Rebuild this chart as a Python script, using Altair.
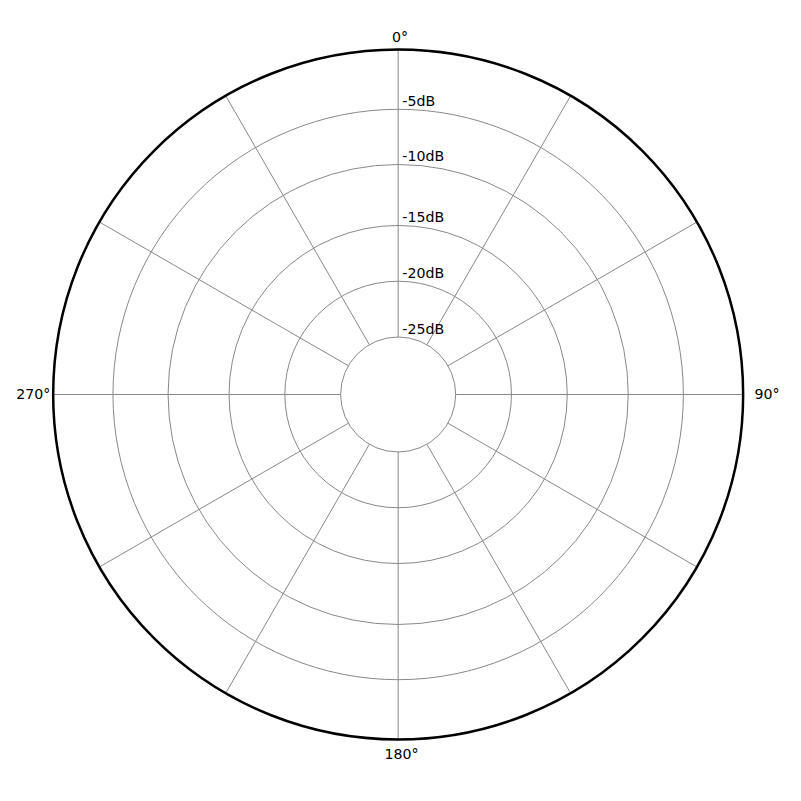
import math
import altair as alt
import pandas as pd

# ---- chart values ----
R_MIN = -30          # dB at the centre
R_MAX = 0            # dB at the outer ring
ring_db = [-25, -20.15, -15.3, -10, -5.2]
ring_labels = ["-25dB", "-20dB", "-15dB", "-10dB", "-5dB"]
spoke_deg = [0, 30, 60, 90, 120, 150, 180, 210, 240, 270, 300, 330]
angle_deg = [0, 90, 180, 270]
angle_labels = ["0°", "90°", "180°", "270°"]

SIZE = 692
FONT = "DejaVu Sans"
FS = 14.2
GRID = "#888888"
SPAN = R_MAX - R_MIN
INNER = ring_db[0] - R_MIN

xs = alt.Scale(domain=[-SPAN, SPAN], nice=False, zero=False)
rs = alt.Scale(type="linear", domain=[R_MIN, R_MAX], range=[0, SIZE / 2], zero=False)

rings = alt.Chart(pd.DataFrame({"db": ring_db})).mark_arc(
    filled=False, stroke=GRID, strokeWidth=1, theta=0, theta2=2 * math.pi
).encode(
    x=alt.value(SIZE / 2), y=alt.value(SIZE / 2),
    radius=alt.Radius("db:Q", scale=rs, stack=False),
)

spokes = alt.Chart(pd.DataFrame({"deg": spoke_deg})).transform_calculate(
    xa=f"{INNER} * sin(datum.deg * PI / 180)",
    ya=f"{INNER} * cos(datum.deg * PI / 180)",
    xb=f"{SPAN} * sin(datum.deg * PI / 180)",
    yb=f"{SPAN} * cos(datum.deg * PI / 180)",
).mark_rule(color=GRID, strokeWidth=1).encode(
    x=alt.X("xa:Q", scale=xs, axis=None),
    y=alt.Y("ya:Q", scale=xs, axis=None),
    x2="xb:Q", y2="yb:Q",
)

outer = alt.Chart(pd.DataFrame({"db": [R_MAX]})).mark_arc(
    filled=False, stroke="black", strokeWidth=2.5, theta=0, theta2=2 * math.pi
).encode(
    x=alt.value(SIZE / 2), y=alt.value(SIZE / 2),
    radius=alt.Radius("db:Q", scale=rs, stack=False),
)

db_text = alt.Chart(pd.DataFrame({"db": ring_db, "label": ring_labels})).transform_calculate(
    x0="0", r=f"datum.db - ({R_MIN})"
).mark_text(
    align="left", baseline="alphabetic", dx=4.2, dy=-3.3, font=FONT, fontSize=FS, color="black"
).encode(
    x=alt.X("x0:Q", scale=xs, axis=None),
    y=alt.Y("r:Q", scale=xs, axis=None),
    text="label:N",
)

angle_df = pd.DataFrame({"deg": angle_deg, "label": angle_labels})
label_style = {
    0: dict(align="center", dx=2, dy=-7.8),
    90: dict(align="left", dx=11.5, dy=4.5),
    180: dict(align="center", dx=3.5, dy=19.3),
    270: dict(align="right", dx=-2.8, dy=4.5),
}
angle_layers = []
for d in angle_deg:
    st = label_style[d]
    angle_layers.append(
        alt.Chart(angle_df).transform_filter(f"datum.deg == {d}").transform_calculate(
            xa=f"{SPAN} * sin(datum.deg * PI / 180)",
            ya=f"{SPAN} * cos(datum.deg * PI / 180)",
        ).mark_text(
            baseline="alphabetic", font=FONT, fontSize=FS, color="black", **st
        ).encode(
            x=alt.X("xa:Q", scale=xs, axis=None),
            y=alt.Y("ya:Q", scale=xs, axis=None),
            text="label:N",
        )
    )

chart = alt.layer(rings, spokes, outer, db_text, *angle_layers).properties(
    width=SIZE, height=SIZE,
    autosize=alt.AutoSizeParams(type="none"),
    padding={"left": 45.3, "top": 40.5, "right": 50, "bottom": 40},
).configure_view(strokeWidth=0)

chart.save("out.html", embed_options={"renderer": "svg", "actions": False})
